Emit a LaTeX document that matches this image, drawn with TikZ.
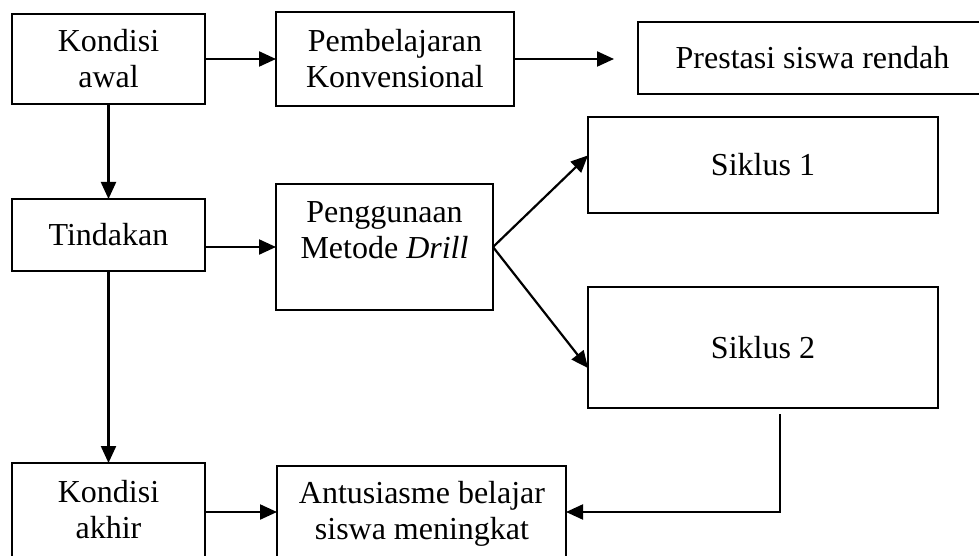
\documentclass[tikz,border=0pt]{standalone}
\usepackage{fontspec}
\setmainfont{Liberation Serif}
\usetikzlibrary{arrows.meta,calc}
\begin{document}
\begin{tikzpicture}[x=1pt,y=-1pt,
  box/.style={draw=black,line width=2pt,inner sep=0pt,outer sep=0pt,align=center,
    font=\fontsize{32}{36}\selectfont},
  txt/.style={inner sep=0pt,align=center,font=\fontsize{32}{36}\selectfont},
  arr/.style={line width=2.2pt,-{Triangle[length=17pt,width=15pt]}}]
\useasboundingbox (0,0) rectangle (979,556);
\clip (0,0) rectangle (979,556);
\fill[white] (0,0) rectangle (979,556);
% boxes
\node[box,minimum width=193pt,minimum height=90pt] (ka) at (108.5,59) {Kondisi\\awal};
\node[box,minimum width=238pt,minimum height=94pt] (pk) at (395,59) {Pembelajaran\\Konvensional};
\node[box,minimum width=349pt,minimum height=72pt] (ps) at (812.5,58) {Prestasi siswa rendah};
\node[box,minimum width=350pt,minimum height=96pt] (s1) at (763,165) {Siklus 1};
\node[box,minimum width=193pt,minimum height=72pt] (td) at (108.5,235) {Tindakan};
\node[box,minimum width=217pt,minimum height=126pt] (pd) at (384.5,247) {};
\node[txt] (pdt) at (384.5,230.5) {Penggunaan\\Metode \textit{Drill}};
\node[box,minimum width=350pt,minimum height=121pt] (s2) at (763,347.5) {Siklus 2};
\node[box,minimum width=193pt,minimum height=98pt] (kk) at (108.5,512) {};
\node[txt] (kkt) at (108.5,510) {Kondisi\\akhir};
\node[box,minimum width=289pt,minimum height=92pt] (an) at (421.5,512) {};
\node[txt] (ant) at (422,514) {Antusiasme belajar\\siswa meningkat};
% free ends
\coordinate (pkend) at (614,59);
\coordinate (s1in) at ($(s1.north west)!0.4!(s1.south west)$);
\coordinate (s2in) at ($(s2.north west)!0.67!(s2.south west)$);
\coordinate (s2out) at ($(s2.south)+(17,6)$);
% connectors
\draw[arr] (ka.east) -- (pk.west);
\draw[arr] (pk.east) -- (pkend);
\draw[arr] (ka.south) -- (td.north);
\draw[arr] (td.east |- pd.west) -- (pd.west);
\draw[arr] (td.south) -- (kk.north);
\draw[arr] (kk.east) -- (an.west);
\draw[arr] (pd.east) -- (s1in);
\draw[arr] (pd.east) -- (s2in);
\draw[arr] (s2out) |- (an.east);
\end{tikzpicture}
\end{document}
